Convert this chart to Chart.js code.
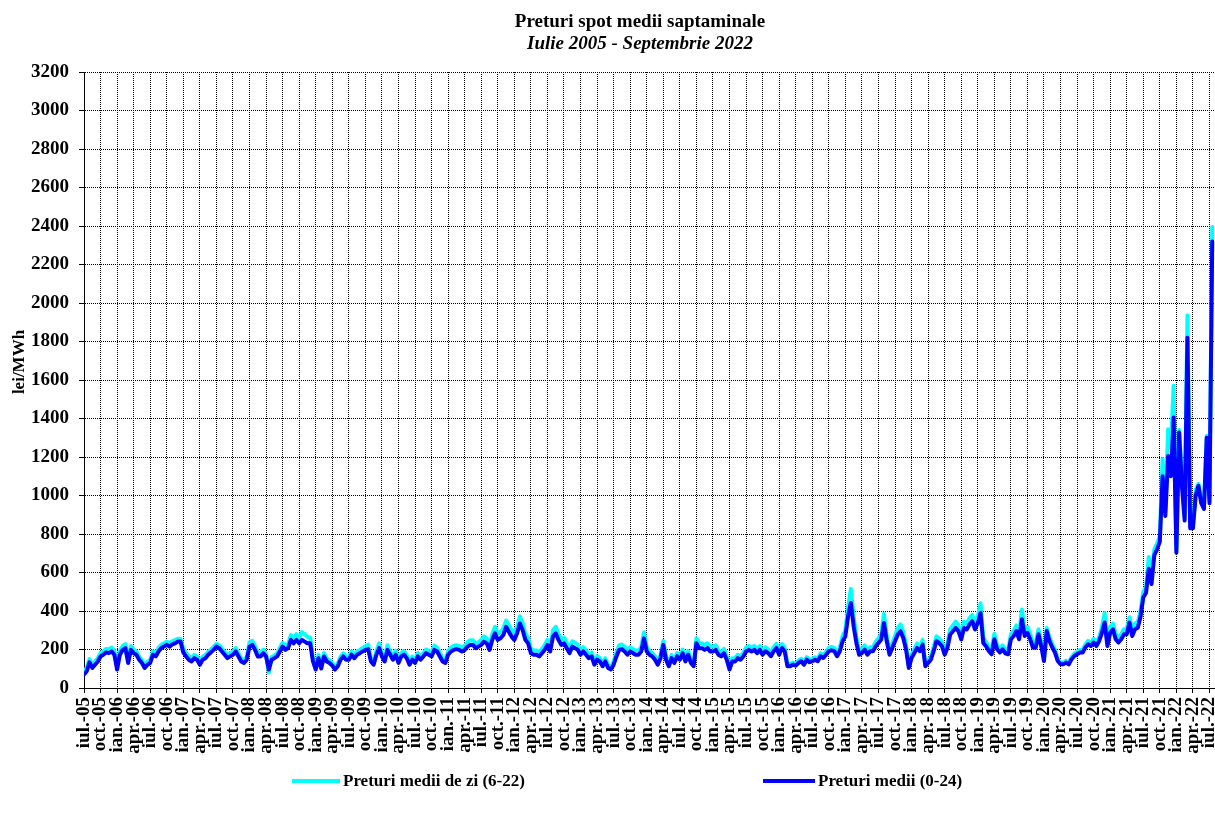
<!DOCTYPE html>
<html>
<head>
<meta charset="utf-8">
<script src="https://cdn.jsdelivr.net/npm/chart.js@4.4.1/dist/chart.umd.min.js"></script>
<style>
html,body{margin:0;padding:0;background:#fff;overflow:hidden}
#wrap{width:1215px;height:816px;position:relative}
</style>
</head>
<body>
<div id="wrap"><canvas id="c" width="1215" height="816"></canvas></div>
<script>
// ---- text ----
const titleText = 'Preturi spot medii saptaminale';
const subtitleText = 'Iulie 2005 - Septembrie 2022';
const yAxisTitle = 'lei/MWh';
const seriesNames = ['Preturi medii de zi (6-22)', 'Preturi medii (0-24)'];

// ---- quarter tick labels (every 3 months from iul. 2005) ----
const quarterLabels = [
 'iul.-05','oct.-05',
 'ian.-06','apr.-06','iul.-06','oct.-06',
 'ian.-07','apr.-07','iul.-07','oct.-07',
 'ian.-08','apr.-08','iul.-08','oct.-08',
 'ian.-09','apr.-09','iul.-09','oct.-09',
 'ian.-10','apr.-10','iul.-10','oct.-10',
 'ian.-11','apr.-11','iul.-11','oct.-11',
 'ian.-12','apr.-12','iul.-12','oct.-12',
 'ian.-13','apr.-13','iul.-13','oct.-13',
 'ian.-14','apr.-14','iul.-14','oct.-14',
 'ian.-15','apr.-15','iul.-15','oct.-15',
 'ian.-16','apr.-16','iul.-16','oct.-16',
 'ian.-17','apr.-17','iul.-17','oct.-17',
 'ian.-18','apr.-18','iul.-18','oct.-18',
 'ian.-19','apr.-19','iul.-19','oct.-19',
 'ian.-20','apr.-20','iul.-20','oct.-20',
 'ian.-21','apr.-21','iul.-21','oct.-21',
 'ian.-22','apr.-22','iul.-22'
];
const yTickValues = [0,200,400,600,800,1000,1200,1400,1600,1800,2000,2200,2400,2600,2800,3000,3200];

// ---- series (lei/MWh), one value every half month from iul. 2005 ----
const avgPrices = [
70,87,133,104,121,138,164,173,185,181,
190,173,96,173,198,207,130,198,181,173,
147,130,104,121,130,173,164,190,207,215,
224,215,227,232,241,241,185,164,147,138,
155,147,121,147,155,173,185,198,215,207,
190,173,155,164,173,190,164,138,130,147,
215,224,198,164,164,181,164,96,147,155,
164,190,215,198,207,250,232,250,232,250,
241,232,
232,138,96,155,101,164,138,130,116,96,
113,147,164,147,147,173,155,173,181,190,
198,202,138,121,173,207,164,138,198,173,
147,173,130,164,173,155,121,147,130,164,
147,164,181,173,164,198,190,164,138,130,
173,190,198,202,198,190,198,215,224,224,
207,215,224,241,232,198,250,284,250,258,
275,318,292,267,250,284,335,301,250,232,
181,173,
173,164,181,198,224,190,267,284,250,224,
232,207,181,215,207,198,173,190,173,155,
164,121,147,138,113,138,104,96,121,164,
198,202,190,173,190,181,173,173,190,258,
190,173,164,147,121,155,224,147,113,155,
130,164,147,181,138,173,130,113,232,207,
207,198,207,190,190,198,173,164,181,147,
96,138,138,155,147,164,190,198,190,198,
181,198,
173,191,182,165,191,208,173,208,191,113,
113,121,116,130,139,121,147,134,139,147,
139,165,156,173,191,196,191,165,191,243,
269,373,442,321,234,173,182,200,173,191,
191,217,234,252,338,243,173,208,243,278,
295,260,200,104,156,182,208,191,225,113,
130,147,191,243,234,217,173,208,278,295,
312,295,252,312,304,330,347,304,338,390,
234,217,
192,175,253,201,184,201,180,175,253,270,
296,253,357,270,287,253,210,210,279,218,
140,296,244,210,184,140,123,123,132,123,
149,166,175,184,184,210,227,218,236,218,
244,287,340,218,287,305,253,236,253,279,
279,340,270,305,313,370,470,495,620,540,
690,720,760,1100,894,1205,1100,1405,703,1327,
1050,870,1820,830,830,1000,1050,960,930,1300,
960,2320
];

const dayPrices = [
85,105,150,120,138,155,182,192,203,200,
210,192,110,192,218,228,145,218,200,190,
162,145,118,136,146,190,181,208,225,232,
240,232,243,248,256,255,205,182,165,155,
172,163,136,162,170,188,200,214,230,222,
205,188,170,182,190,208,180,152,145,162,
238,245,218,182,182,200,178,80,160,170,
180,208,235,218,228,275,258,280,260,290,
280,265,
262,155,108,172,115,182,154,145,130,108,
126,162,180,162,163,190,172,190,198,208,
218,225,152,135,192,232,180,152,222,192,
162,195,145,182,192,172,135,163,145,182,
163,182,200,192,182,220,210,182,154,145,
192,210,218,222,218,210,220,238,248,248,
230,238,250,268,258,222,280,318,282,290,
310,350,326,300,282,318,372,338,282,262,
205,195,
195,185,202,222,250,212,300,318,282,252,
262,235,205,242,235,225,195,212,195,175,
185,138,165,155,128,155,118,108,136,185,
222,226,213,195,212,202,195,195,212,290,
212,193,182,165,136,172,245,165,126,172,
145,182,165,200,154,192,145,126,258,232,
232,224,232,215,215,222,195,185,203,165,
108,155,155,172,165,182,210,218,210,218,
202,218,
192,212,202,182,212,230,192,228,210,124,
124,132,127,142,152,132,160,146,152,160,
152,180,170,188,208,213,208,180,210,270,
300,420,515,370,262,192,202,222,192,212,
212,240,258,280,385,272,192,230,270,312,
330,292,222,115,172,202,232,212,250,125,
144,163,212,268,258,240,192,232,305,325,
345,325,278,345,335,362,380,335,372,440,
262,240,
212,195,282,222,204,222,200,195,280,298,
325,280,408,300,318,280,232,232,305,240,
155,312,262,228,198,150,132,132,142,132,
160,178,188,198,198,226,245,236,255,236,
265,315,390,240,318,335,280,260,280,305,
305,368,295,335,342,400,500,525,680,580,
720,750,790,1190,920,1344,1250,1570,720,1340,
1100,890,1935,850,845,1030,1060,980,950,1310,
980,2395
];

// x position of each point in months since iul. 2005 (two points per month)
const monthPos = avgPrices.map((_, i) => i / 2);

const FONT = '"Liberation Serif", "Times New Roman", serif';

const decor = {
  id: 'decor',
  afterDraw(chart) {
    const ctx = chart.ctx;
    ctx.save();
    ctx.fillStyle = '#000';
    ctx.textAlign = 'center';
    ctx.textBaseline = 'alphabetic';
    ctx.font = 'bold 19px ' + FONT;
    ctx.fillText(titleText, 640, 27);
    ctx.font = 'italic bold 19px ' + FONT;
    ctx.fillText(subtitleText, 640, 49);
    // y axis title
    ctx.save();
    ctx.translate(20, 362);
    ctx.rotate(-Math.PI / 2);
    ctx.textBaseline = 'middle';
    ctx.font = 'bold 17px ' + FONT;
    ctx.fillText(yAxisTitle, 0, 0);
    ctx.restore();
    // legend
    const items = [
      {x1: 292, x2: 340, tx: 343},
      {x1: 763, x2: 815, tx: 818}
    ];
    ctx.textAlign = 'left';
    ctx.textBaseline = 'middle';
    ctx.font = 'bold 17px ' + FONT;
    chart.data.datasets.forEach((ds, k) => {
      const it = items[k];
      ctx.strokeStyle = ds.borderColor;
      ctx.lineWidth = 4;
      ctx.beginPath();
      ctx.moveTo(it.x1, 781);
      ctx.lineTo(it.x2, 781);
      ctx.stroke();
      ctx.fillStyle = '#000';
      ctx.fillText(ds.label, it.tx, 782);
    });
    ctx.restore();
  }
};

new Chart(document.getElementById('c'), {
  type: 'line',
  data: {
    labels: monthPos,
    datasets: [
      {label: seriesNames[0], data: dayPrices, borderColor: '#00FFFF', backgroundColor: '#00FFFF',
       borderWidth: 4, pointRadius: 0, tension: 0, order: 2, borderJoinStyle: 'round', borderCapStyle: 'round'},
      {label: seriesNames[1], data: avgPrices, borderColor: '#0000FF', backgroundColor: '#0000FF',
       borderWidth: 4, pointRadius: 0, tension: 0, order: 1, borderJoinStyle: 'round', borderCapStyle: 'round'}
    ]
  },
  options: {
    responsive: false,
    animation: false,
    layout: {padding: {top: 72, left: 0, right: 0, bottom: 0}},
    plugins: {legend: {display: false}, title: {display: false}, tooltip: {enabled: false}},
    scales: {
      x: {
        type: 'linear',
        min: 0,
        max: 205,
        afterBuildTicks: (s) => { s.ticks = quarterLabels.map((_, k) => ({value: k * 3})); },
        afterFit: (s) => { s.height = 128; s.paddingLeft = 0; s.paddingRight = 0; },
        ticks: {
          autoSkip: false, maxRotation: 90, minRotation: 90, padding: 4,
          color: '#000', font: {family: FONT, size: 19, weight: 'bold'},
          callback: (v, idx) => quarterLabels[idx]
        },
        grid: {color: '#000', lineWidth: 1, drawTicks: true, tickLength: 5, tickColor: '#000'},
        border: {display: true, color: '#000', width: 1, dash: [1, 1]}
      },
      y: {
        min: 0,
        max: 3200,
        afterBuildTicks: (s) => { s.ticks = yTickValues.map(v => ({value: v})); },
        afterFit: (s) => { s.width = 84; },
        ticks: {
          padding: 10, color: '#000', font: {family: FONT, size: 19, weight: 'bold'},
          callback: (v) => String(v)
        },
        grid: {color: '#000', lineWidth: 1, drawTicks: true, tickLength: 5, tickColor: '#000'},
        border: {display: true, color: '#000', width: 1, dash: [1, 1]}
      }
    }
  },
  plugins: [decor]
});
</script>
</body>
</html>
